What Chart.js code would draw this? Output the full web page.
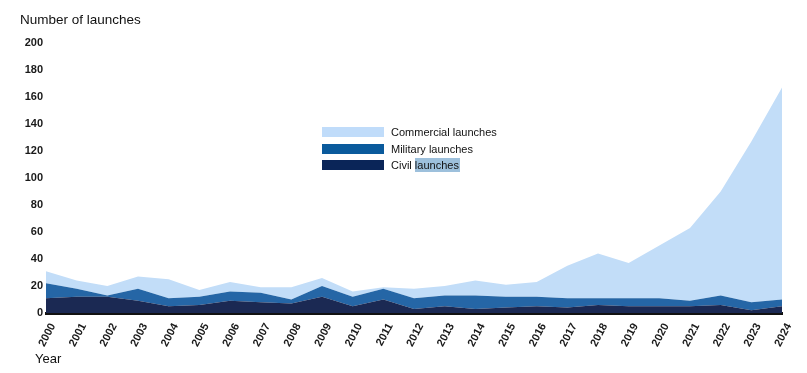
<!DOCTYPE html>
<html>
<head>
<meta charset="utf-8">
<script src="https://cdn.jsdelivr.net/npm/chart.js@4/dist/chart.umd.min.js"></script>
<style>
  html, body { margin: 0; padding: 0; background: #fff; }
  #wrap { position: relative; width: 807px; height: 373px; font-family: "Liberation Sans", Arial, sans-serif; color: #111; }
  #chart { position: absolute; left: 0; top: 0; }
  .title { position: absolute; left: 20px; top: 12px; font-size: 13.5px; color: #111; }
  .xtitle { position: absolute; left: 35px; top: 351px; font-size: 13px; color: #111; }
  .legend { position: absolute; left: 322px; top: 125px; font-size: 11px; }
  .legend .row { position: relative; height: 16.5px; }
  .legend .box { position: absolute; left: 0; top: 2px; width: 62px; height: 10px; }
  .legend .txt { position: absolute; left: 69px; top: 0; white-space: nowrap; line-height: 14px; }
  .legend .sel { background: #9dc0dc; padding: 1px 1px 1px 0; }
</style>
</head>
<body>
<div id="wrap">
  <canvas id="chart" width="807" height="373"></canvas>
  <div class="title">Number of launches</div>
  <div class="xtitle">Year</div>
  <div class="legend">
    <div class="row"><div class="box" style="background:#c0dcfa"></div><div class="txt">Commercial launches</div></div>
    <div class="row"><div class="box" style="background:#0a5a9c"></div><div class="txt">Military launches</div></div>
    <div class="row"><div class="box" style="background:#0a2558"></div><div class="txt">Civil <span class="sel">launches</span></div></div>
  </div>
</div>
<script>
const years = ['2000', '2001', '2002', '2003', '2004', '2005', '2006', '2007', '2008', '2009', '2010', '2011', '2012',
  '2013', '2014', '2015', '2016', '2017', '2018', '2019', '2020', '2021', '2022', '2023', '2024'];
const civil = [11, 12, 12, 9, 5, 6, 9, 8, 7, 12, 5, 10, 3, 5, 3, 4, 5, 4, 6, 5, 5, 5, 6, 2, 5];
const military = [11, 6, 1, 9, 6, 6, 7, 7, 3, 8, 7, 8, 8, 8, 10, 8, 7, 7, 5, 6, 6, 4, 7, 6, 5];
const commercial = [9, 6, 7, 9, 14, 5, 7, 4, 9, 6, 4, 1, 7, 7, 11, 9, 11, 24, 33, 26, 39, 54, 77, 119, 157];
const yTicks = [0, 20, 40, 60, 80, 100, 120, 140, 160, 180, 200];

const ctx = document.getElementById('chart').getContext('2d');

const area = (label, data, color, fill) => ({
  label,
  data,
  backgroundColor: color,
  borderColor: color,
  borderWidth: 0,
  pointRadius: 0,
  tension: 0,
  fill
});

new Chart(ctx, {
  type: 'line',
  data: {
    labels: years,
    datasets: [
      area('Civil launches', civil, '#1b2953', 'origin'),
      area('Military launches', military, '#2566a6', '-1'),
      area('Commercial launches', commercial, '#c2ddf8', '-1')
    ]
  },
  options: {
    responsive: false,
    animation: false,
    layout: { padding: { left: 0, right: 25, top: 43, bottom: 0 } },
    plugins: {
      legend: { display: false },
      tooltip: { enabled: false }
    },
    scales: {
      x: {
        offset: false,
        grid: { display: false, drawTicks: false },
        border: { display: true, color: '#111', width: 3 },
        ticks: {
          autoSkip: false,
          minRotation: 62,
          maxRotation: 62,
          padding: 8,
          labelOffset: 7,
          color: '#1a1a1a',
          font: { family: 'Liberation Sans', size: 11, weight: 'bold' }
        },
        afterFit: s => { s.height = 60; }
      },
      y: {
        stacked: true,
        min: 0,
        max: 200,
        grid: { display: false, drawTicks: false },
        border: { display: false },
        afterBuildTicks: s => { s.ticks = yTicks.map(v => ({ value: v })); },
        ticks: {
          padding: 3,
          color: '#1a1a1a',
          font: { family: 'Liberation Sans', size: 11, weight: 'bold' }
        },
        afterFit: s => { s.width = 46; }
      }
    }
  }
});
</script>
</body>
</html>
